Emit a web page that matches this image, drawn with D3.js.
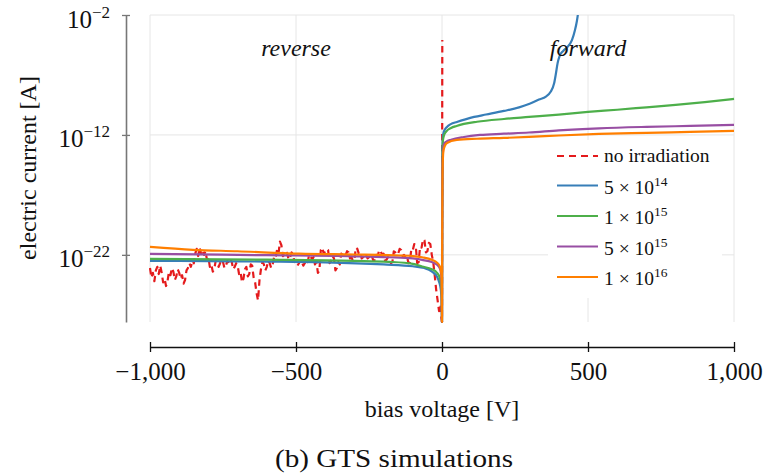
<!DOCTYPE html>
<html>
<head>
<meta charset="utf-8">
<script src="https://cdn.jsdelivr.net/npm/d3@7"></script>
<style>
  html, body { margin: 0; padding: 0; background: #fff; }
  svg { display: block; }
  text { font-family: "Liberation Serif", "Times New Roman", serif; fill: #111; }
</style>
</head>
<body>
<svg id="chart" width="764" height="476"></svg>
<script>
// Axis ticks
const xTickValues = [-1000, -500, 0, 500, 1000];
const xTickLabels = ["\u22121,000", "\u2212500", "0", "500", "1,000"];
const yTickExponents = [-2, -12, -22];

// Series labels (fluence) and colours
const seriesNames = ["no irradiation", "5 \u00d7 10|14", "1 \u00d7 10|15", "5 \u00d7 10|15", "1 \u00d7 10|16"];
const seriesColors = ["#e41a1c", "#377eb8", "#4daf4a", "#984ea3", "#ff7f00"];

// [bias voltage V, log10 current A]
const noIrradiation = [
  [-1000,-23.1],[-995,-23.9],[-990,-23.5],[-985,-24.2],[-980,-23.3],[-975,-23.0],[-970,-23.6],[-965,-22.9],
  [-960,-23.5],[-955,-24.3],[-950,-24.0],[-945,-24.6],[-940,-24.2],[-935,-23.4],[-930,-23.7],[-925,-23.1],
  [-920,-23.4],[-915,-24.1],[-910,-23.8],[-905,-23.2],[-900,-23.5],[-895,-24.0],[-890,-23.7],[-885,-24.4],
  [-880,-24.1],[-875,-23.3],[-870,-23.1],[-865,-22.7],[-860,-23.0],[-855,-22.5],[-850,-22.7],[-845,-21.9],
  [-840,-21.5],[-835,-22.1],[-830,-21.4],[-825,-21.9],[-820,-21.6],[-815,-22.0],[-810,-21.7],[-805,-22.4],
  [-800,-22.2],[-795,-23.0],[-790,-22.8],[-785,-23.4],[-780,-23.2],[-775,-22.5],[-770,-22.6],[-765,-23.0],
  [-760,-22.7],[-755,-22.4],[-750,-22.6],[-745,-23.1],[-740,-22.9],[-735,-22.5],[-730,-22.7],[-725,-22.4],
  [-720,-22.6],[-715,-23.2],[-710,-23.0],[-705,-22.7],[-700,-22.9],[-695,-23.6],[-690,-23.4],[-685,-24.3],
  [-680,-24.0],[-675,-23.2],[-670,-23.0],[-665,-23.8],[-660,-23.6],[-655,-22.8],[-650,-22.9],[-645,-23.9],
  [-640,-24.3],[-635,-25.2],[-630,-25.8],[-625,-24.1],[-620,-23.2],[-615,-22.6],[-610,-22.8],[-605,-23.3],
  [-600,-23.0],[-595,-22.5],[-590,-22.7],[-585,-23.1],[-580,-22.8],[-575,-22.2],[-570,-22.3],[-565,-21.6],
  [-560,-21.9],[-555,-20.9],[-550,-21.2],[-545,-22.1],[-540,-22.0],[-535,-21.7],[-530,-21.9],[-525,-22.4],
  [-520,-22.2],[-515,-21.8],[-510,-22.0],[-505,-22.6],[-500,-22.5],[-495,-22.9],[-490,-22.7],[-485,-22.4],
  [-480,-22.6],[-475,-22.9],[-470,-22.7],[-465,-22.4],[-460,-22.6],[-455,-22.0],[-450,-22.1],[-445,-22.4],
  [-440,-22.2],[-435,-22.8],[-430,-22.6],[-425,-23.5],[-420,-23.3],[-415,-21.6],[-410,-21.4],[-405,-21.9],
  [-400,-21.7],[-395,-21.5],[-390,-21.6],[-385,-22.7],[-380,-22.5],[-375,-22.1],[-370,-22.3],[-365,-23.3],
  [-360,-23.1],[-355,-22.6],[-350,-22.8],[-345,-21.9],[-340,-22.0],[-335,-22.2],[-330,-22.0],[-325,-21.7],
  [-320,-21.8],[-315,-22.3],[-310,-22.2],[-305,-22.5],[-300,-22.4],[-295,-21.4],[-290,-21.5],[-285,-21.9],
  [-280,-21.8],[-275,-22.3],[-270,-22.2],[-265,-21.9],[-260,-22.0],[-255,-22.3],[-250,-22.2],[-245,-22.0],
  [-240,-22.1],[-235,-22.5],[-230,-22.4],[-225,-22.0],[-220,-22.1],[-215,-21.6],[-210,-21.7],[-205,-22.0],
  [-200,-21.9],[-195,-22.5],[-190,-22.4],[-185,-22.2],[-180,-22.3],[-175,-22.7],[-170,-22.6],[-165,-21.7],
  [-160,-21.8],[-155,-22.0],[-150,-21.9],[-145,-21.5],[-140,-21.6],[-135,-22.1],[-130,-22.0],[-125,-22.2],
  [-120,-22.1],[-115,-22.7],[-110,-22.6],[-105,-21.5],[-100,-21.6],[-95,-21.1],[-90,-21.2],[-85,-22.7],
  [-80,-22.6],[-75,-21.3],[-70,-21.4],[-65,-20.7],[-60,-20.8],[-55,-21.8],[-50,-21.7],[-45,-21.0],
  [-40,-21.1],[-35,-22.0],[-30,-22.6],[-25,-23.7],[-20,-24.9],[-15,-25.8],[-10,-26.7],[-5,-26.2],
  [-2,-27.3],[0,-27.6],[1,-4.08]
];
const fluence5e14 = [
  [-1000,-22.5],[-800,-22.53],[-600,-22.56],[-400,-22.62],[-200,-22.8],[-100,-22.95],[-60,-23.1],[-34,-23.4],
  [-17,-23.83],[-10,-24.25],[-4,-24.9],[-1.5,-25.8],[0,-27.6],[0.5,-20],[1.5,-13.5],[3,-12.2],[5,-11.85],
  [10,-11.55],[17,-11.33],[30,-11.1],[51,-10.92],[80,-10.7],[110,-10.5],[151,-10.3],[212,-10.0],[264,-9.7],
  [300,-9.4],[332,-9.05],[356,-8.8],[372,-8.4],[384,-7.7],[390,-6.9],[396,-6.0],[403,-5.4],[415,-5.0],
  [428,-4.7],[445,-4.1],[455,-3.3],[462,-2.5],[468,-1.5]
];
const fluence1e15 = [
  [-1000,-22.33],[-600,-22.4],[-300,-22.5],[-183,-22.58],[-100,-22.75],[-68,-22.97],[-35,-23.2],[-17,-23.5],
  [-8,-23.9],[-3,-24.5],[-1,-25.5],[0,-27.6],[0.5,-20],[1.5,-14],[3,-12.5],[6,-12.1],[15,-11.7],[31,-11.42],
  [50,-11.25],[75,-11.08],[120,-10.9],[212,-10.67],[298,-10.5],[400,-10.3],[500,-10.08],[600,-9.9],[700,-9.7],
  [800,-9.5],[900,-9.27],[1000,-9.0]
];
const fluence5e15 = [
  [-1000,-21.92],[-600,-22.03],[-300,-22.12],[-183,-22.2],[-100,-22.3],[-68,-22.42],[-35,-22.6],[-17,-22.83],
  [-8,-23.1],[-3,-23.6],[-1,-24.5],[0,-27.6],[0.5,-21],[1.5,-15],[3,-13.5],[7,-12.75],[15,-12.55],[31,-12.4],
  [75,-12.17],[130,-12.0],[212,-11.9],[298,-11.8],[400,-11.62],[538,-11.45],[700,-11.33],[850,-11.25],[1000,-11.17]
];
const fluence1e16 = [
  [-1000,-21.33],[-853,-21.58],[-700,-21.7],[-490,-21.9],[-300,-21.97],[-183,-22.02],[-100,-22.1],[-68,-22.2],
  [-35,-22.4],[-17,-22.65],[-8,-22.95],[-3,-23.4],[-1,-24.2],[0,-27.6],[0.5,-22],[1.5,-16],[3,-14],[5,-13.3],
  [10,-12.9],[17,-12.67],[51,-12.42],[120,-12.32],[212,-12.25],[298,-12.17],[400,-12.05],[538,-11.92],
  [700,-11.83],[850,-11.75],[1000,-11.67]
];
const allSeries = [noIrradiation, fluence5e14, fluence1e15, fluence5e15, fluence1e16];

const svg = d3.select("#chart");
const plot = { left: 150, right: 734, top: 15, bottom: 322 };

const x = d3.scaleLinear().domain([-1000, 1000]).range([plot.left, plot.right]);
const y = d3.scaleLog().domain([Math.pow(10, -27.6), 1e-2]).range([plot.bottom, plot.top]);

// grid
const grid = svg.append("g").attr("stroke", "#e6e6e6").attr("stroke-width", 1);
grid.selectAll("line.v").data(xTickValues).join("line")
  .attr("x1", d => x(d)).attr("x2", d => x(d))
  .attr("y1", plot.top).attr("y2", plot.bottom);
grid.selectAll("line.h").data(yTickExponents).join("line")
  .attr("x1", plot.left).attr("x2", plot.right)
  .attr("y1", d => y(Math.pow(10, d))).attr("y2", d => y(Math.pow(10, d)));

// clip for curves
svg.append("defs").append("clipPath").attr("id", "plotClip")
  .append("rect").attr("x", plot.left - 2).attr("y", plot.top)
  .attr("width", plot.right - plot.left + 4).attr("height", plot.bottom - plot.top + 1);

// legend background (drawn before curves, covers the grid)
const legend = { x: 548, y: 140, w: 174, h: 158 };
svg.append("rect").attr("x", legend.x).attr("y", legend.y)
  .attr("width", legend.w).attr("height", legend.h).attr("fill", "#fff");

const line = d3.line()
  .x(d => x(d[0]))
  .y(d => y(Math.pow(10, d[1])));

const curves = svg.append("g").attr("clip-path", "url(#plotClip)");
allSeries.forEach((s, i) => {
  curves.append("path")
    .datum(s)
    .attr("fill", "none")
    .attr("stroke", seriesColors[i])
    .attr("stroke-width", i === 0 ? 2.2 : 2.2)
    .attr("stroke-dasharray", i === 0 ? "6.5,4.5" : null)
    .attr("stroke-linejoin", "round")
    .attr("d", line.curve(i === 0 ? d3.curveLinear : d3.curveMonotoneX));
});

// x axis
const xAxis = d3.axisBottom(x).tickValues(xTickValues).tickSize(0).tickFormat("");
const gx = svg.append("g").attr("transform", "translate(0,347)").call(xAxis);
gx.select(".domain").attr("stroke", "#111").attr("stroke-width", 1.3);
gx.selectAll(".tick").each(function(d, i) {
  const t = d3.select(this);
  t.append("line").attr("y1", -5).attr("y2", 5).attr("stroke", "#111").attr("stroke-width", 1.3);
  t.append("text").attr("y", 33).attr("text-anchor", "middle")
    .attr("font-size", 25).text(xTickLabels[i]);
});

// y axis
const yAxis = d3.axisLeft(y).tickValues(yTickExponents.map(e => Math.pow(10, e))).tickSize(0).tickFormat("");
const gy = svg.append("g").attr("transform", "translate(126,0)").call(yAxis);
gy.select(".domain").attr("stroke", "#777").attr("stroke-width", 1.6);
gy.selectAll(".tick").each(function(d, i) {
  const t = d3.select(this);
  t.append("line").attr("x1", -4).attr("x2", 4).attr("stroke", "#777").attr("stroke-width", 1.3);
  const lab = t.append("text").attr("x", -16).attr("y", 12).attr("text-anchor", "end").attr("font-size", 25);
  lab.append("tspan").text("10");
  lab.append("tspan").attr("font-size", 17).attr("dy", -10)
    .text("\u2212" + Math.abs(yTickExponents[i]));
});

// axis titles
svg.append("text").attr("x", 442).attr("y", 417).attr("text-anchor", "middle")
  .attr("font-size", 24).text("bias voltage [V]");
svg.append("text").attr("transform", "translate(36,168) rotate(-90)")
  .attr("text-anchor", "middle").attr("font-size", 24).text("electric current [A]");

// region labels
svg.append("text").attr("x", x(-500)).attr("y", 56).attr("text-anchor", "middle")
  .attr("font-size", 24).attr("font-style", "italic").text("reverse");
svg.append("text").attr("x", x(500)).attr("y", 56).attr("text-anchor", "middle")
  .attr("font-size", 24).attr("font-style", "italic").text("forward");

// legend entries
const rowY = [156, 185.5, 216, 246.5, 277];
seriesNames.forEach((name, i) => {
  const g = svg.append("g");
  g.append("line").attr("x1", 557).attr("x2", 598).attr("y1", rowY[i]).attr("y2", rowY[i])
    .attr("stroke", seriesColors[i]).attr("stroke-width", 2)
    .attr("stroke-dasharray", i === 0 ? "7,5" : null);
  const parts = name.split("|");
  const txt = g.append("text").attr("x", 604).attr("y", rowY[i] + (parts.length > 1 ? 8 : 6))
    .attr("font-size", 19.5);
  txt.append("tspan").text(parts[0]);
  if (parts.length > 1) {
    txt.append("tspan").attr("font-size", 13.5).attr("dy", -8).text(parts[1]);
  }
});

// caption
svg.append("text").attr("x", 394).attr("y", 467).attr("text-anchor", "middle")
  .attr("font-size", 26).attr("textLength", 238).attr("lengthAdjust", "spacingAndGlyphs")
  .text("(b) GTS simulations");
</script>
</body>
</html>
